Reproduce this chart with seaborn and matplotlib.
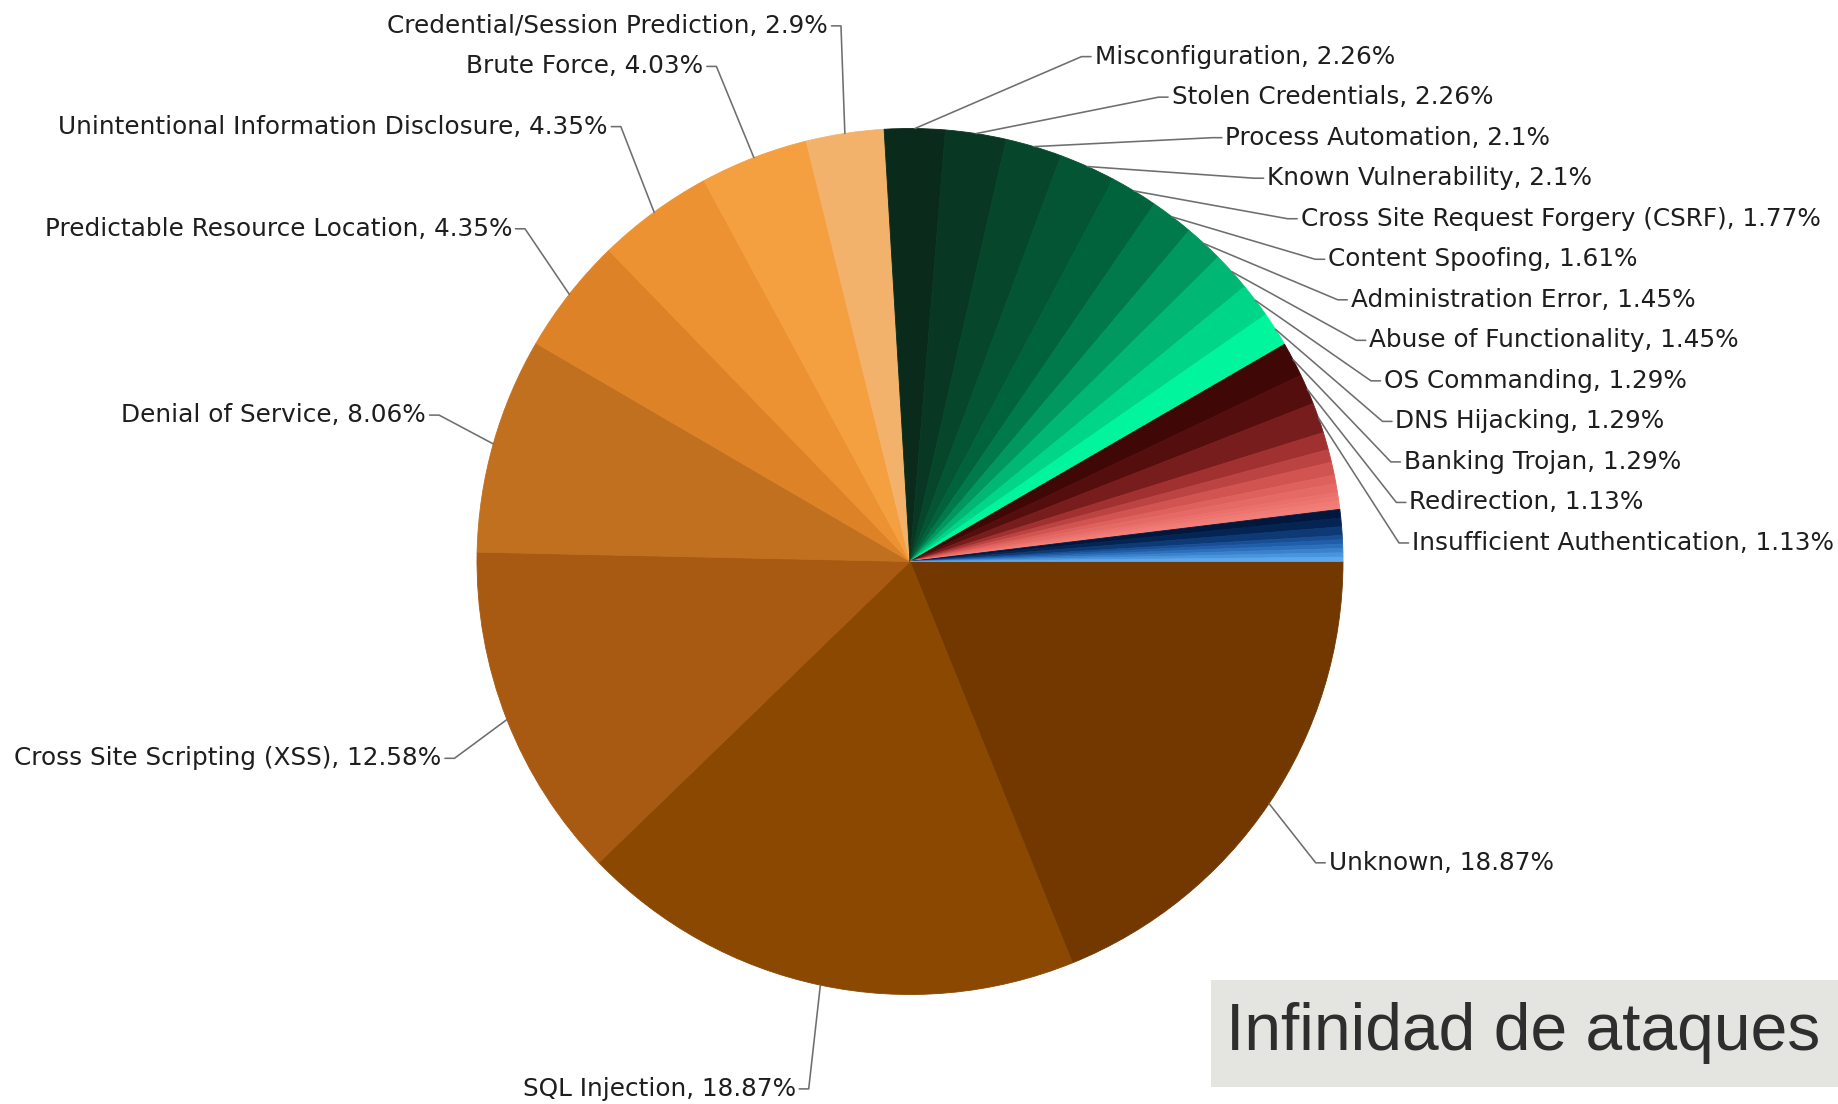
import numpy as np
import matplotlib
matplotlib.use("Agg")
import matplotlib.pyplot as plt
from matplotlib.patches import Rectangle
from matplotlib.colors import LinearSegmentedColormap
import seaborn as sns

# ---------------- data ----------------
labels = [
    "Unknown", "SQL Injection", "Cross Site Scripting (XSS)", "Denial of Service",
    "Predictable Resource Location", "Unintentional Information Disclosure",
    "Brute Force", "Credential/Session Prediction",
    "Misconfiguration", "Stolen Credentials", "Process Automation",
    "Known Vulnerability", "Cross Site Request Forgery (CSRF)", "Content Spoofing",
    "Administration Error", "Abuse of Functionality", "OS Commanding",
    "DNS Hijacking", "Banking Trojan", "Redirection", "Insufficient Authentication",
]
values = [
    18.87, 18.87, 12.58, 8.06,
    4.35, 4.35,
    4.03, 2.9,
    2.26, 2.26, 2.1,
    2.1, 1.77, 1.61,
    1.45, 1.45, 1.29,
    1.29, 1.29, 1.13, 1.13,
]
# small unlabeled slices
minor_red = [0.65, 0.48, 0.48, 0.32, 0.32, 0.16, 0.16, 0.16, 0.16]
minor_blue = [0.32, 0.32, 0.32, 0.16, 0.16, 0.16, 0.16, 0.16, 0.16]

title_text = "Infinidad de ataques"

# ---------------- style ----------------
sns.set_theme(style="white")
plt.rcParams["font.family"] = ["DejaVu Sans"]

N_ORANGE, N_GREEN, N_RED_LAB = 8, 10, 3
orange_colors = ["#733800", "#8a4800", "#a85a12", "#c0701e",
                 "#de8228", "#ec9232", "#f5a040", "#f3b26c"]
green_pal = sns.blend_palette(["#0a2a1b", "#006a40", "#00f59c"], N_GREEN)


def gradient_colors(vals, stops):
    """colour each slice by where its middle falls inside its group"""
    cmap = LinearSegmentedColormap.from_list("g", stops)
    v = np.asarray(vals, float)
    mids = (np.cumsum(v) - v / 2) / v.sum()
    return [cmap(m) for m in mids]


red_vals = values[N_ORANGE + N_GREEN:] + minor_red
red_pal = gradient_colors(red_vals, ["#380505", "#480909", "#651414",
                                     "#a03030", "#dc5c58", "#f4807a"])
blue_pal = gradient_colors(minor_blue, ["#001230", "#052a60", "#2466b4", "#60b0f4"])

all_vals = values + minor_red + minor_blue
colors = orange_colors + list(green_pal) + list(red_pal) + list(blue_pal)

W, H = 1838, 1104
CX, CY, R = 910.0, 561.5, 433.0

fig = plt.figure(figsize=(W / 100, H / 100), dpi=100)
ax = fig.add_axes([0, 0, 1, 1])
wedges, _ = ax.pie(all_vals, colors=colors, startangle=0, counterclock=False,
                   radius=1.0, wedgeprops=dict(linewidth=0.6))
for w in wedges:
    w.set_edgecolor(w.get_facecolor())

ax.set_xlim(-CX / R, (W - CX) / R)
ax.set_ylim(-(H - CY) / R, CY / R)
ax.set_aspect("auto")
ax.axis("off")

# ---------------- labels with leader lines ----------------
A, B = 1.13, 1.245     # ellipse on which the elbows sit
D = 0.0936             # vertical spacing between stacked labels
side_ymax = {1: 1.166, -1: 1.237}

info = []
for i in range(len(labels)):
    w = wedges[i]
    mid = np.deg2rad((w.theta1 + w.theta2) / 2.0)
    side = 1 if np.cos(mid) > 0 else -1
    info.append(dict(i=i, mid=mid, side=side, y=B * np.sin(mid)))

for side in (1, -1):
    grp = sorted([d for d in info if d["side"] == side], key=lambda d: -d["y"])
    for k in range(len(grp) - 2, -1, -1):
        grp[k]["y"] = max(grp[k]["y"], grp[k + 1]["y"] + D)
    grp[0]["y"] = min(grp[0]["y"], side_ymax[side])
    for k in range(1, len(grp)):
        grp[k]["y"] = min(grp[k]["y"], grp[k - 1]["y"] - D)

line_col = "#6e6e6e"
for d in info:
    i, mid, side, y = d["i"], d["mid"], d["side"], d["y"]
    ratio = min(abs(y) / B, 0.99)
    xe = side * A * np.sqrt(1 - ratio ** 2)
    x0, y0 = np.cos(mid), np.sin(mid)
    xt = xe + side * 0.022
    ax.plot([x0, xe, xt], [y0, y, y], color=line_col, lw=1.15,
            solid_joinstyle="round", zorder=3)
    txt = f"{labels[i]}, {values[i]:g}%"
    ax.text(xt + side * 0.008, y, txt, ha="left" if side > 0 else "right",
            va="center", fontsize=17.8, color="#1e1e1e", zorder=4)

# ---------------- caption box ----------------
fig.patches.append(Rectangle((1211 / W, (H - 1087) / H), 1 - 1211 / W, 107 / H,
                             transform=fig.transFigure, facecolor="#e4e4e0",
                             edgecolor="none", zorder=0))
fig.text(1226 / W, (H - 1033) / H, title_text, ha="left", va="center",
         fontsize=47.5, color="#2e2e2e", family=["Liberation Sans", "DejaVu Sans"])

fig.savefig("out.png", dpi=100, facecolor="white")
